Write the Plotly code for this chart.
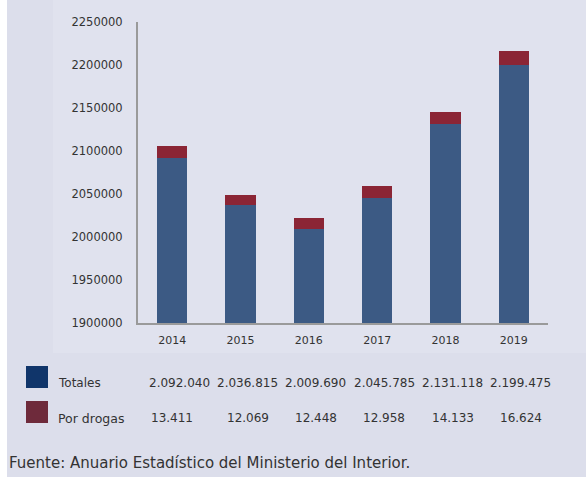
import plotly.graph_objects as go

years = ["2014", "2015", "2016", "2017", "2018", "2019"]
totales = [2092040, 2036815, 2009690, 2045785, 2131118, 2199475]
por_drogas = [13411, 12069, 12448, 12958, 14133, 16624]
totales_lbl = ["2.092.040", "2.036.815", "2.009.690", "2.045.785", "2.131.118", "2.199.475"]
drogas_lbl = ["13.411", "12.069", "12.448", "12.958", "14.133", "16.624"]
y_ticks = [1900000, 1950000, 2000000, 2050000, 2100000, 2150000, 2200000, 2250000]

W, H = 586, 481
L, R, T, B = 138, 38, 22, 158
PH = H - T - B
FONT = "DejaVu Sans"

def py(pix):
    return (H - B - pix) / PH

def px(pix):
    return (pix - L) / (W - L - R)

fig = go.Figure()
fig.add_trace(go.Bar(x=years, y=totales, name="Totales", marker=dict(color="#3c5a84", line=dict(width=0))))
fig.add_trace(go.Bar(x=years, y=por_drogas, name="Por drogas", marker=dict(color="#8b2535", line=dict(width=0))))

shapes = [
    dict(type="rect", xref="paper", yref="paper", x0=px(7), x1=px(586), y0=py(477), y1=py(0),
         fillcolor="#dcdeeb", line=dict(width=0), layer="below"),
    dict(type="rect", xref="paper", yref="paper", x0=px(53), x1=px(586), y0=py(353), y1=py(0),
         fillcolor="#e0e2ee", line=dict(width=0), layer="below"),
    dict(type="rect", xref="paper", yref="paper", x0=px(26), x1=px(48), y0=py(388), y1=py(366),
         fillcolor="#10356a", line=dict(width=0)),
    dict(type="rect", xref="paper", yref="paper", x0=px(26), x1=px(48), y0=py(423), y1=py(401),
         fillcolor="#6e2a3b", line=dict(width=0)),
]

ann = [
    dict(text="Totales", xref="paper", yref="paper", x=px(56), y=py(383), xanchor="left", yanchor="middle",
         showarrow=False, font=dict(size=12, color="#333")),
    dict(text="Por drogas", xref="paper", yref="paper", x=px(56), y=py(418), xanchor="left", yanchor="middle",
         showarrow=False, font=dict(size=12.5, color="#333")),
    dict(text="Fuente: Anuario Estadístico del Ministerio del Interior.", xref="paper", yref="paper",
         x=px(7), y=py(463), xanchor="left", yanchor="middle", showarrow=False, font=dict(size=15, color="#333")),
]
for i, yr in enumerate(years):
    ann.append(dict(text=totales_lbl[i], xref="x", yref="paper", x=i, y=py(383), xshift=7,
                    xanchor="center", yanchor="middle", showarrow=False, font=dict(size=12, color="#333")))
    ann.append(dict(text=drogas_lbl[i], xref="x", yref="paper", x=i, y=py(418), xshift=7 if i else 0,
                    xanchor="center", yanchor="middle", showarrow=False, font=dict(size=12, color="#333")))

fig.update_layout(
    width=W, height=H, margin=dict(l=L, r=R, t=T, b=B, autoexpand=False),
    barmode="stack", bargap=0.56, showlegend=False,
    paper_bgcolor="white", plot_bgcolor="rgba(0,0,0,0)",
    font=dict(family=FONT, color="#333", size=11),
    shapes=shapes, annotations=ann,
    xaxis=dict(type="category", range=[-0.5, 5.5], showline=True, linecolor="#9a9a9a", linewidth=2,
               ticks="", showgrid=False, tickfont=dict(size=11, color="#333"), ticklabelstandoff=6),
    yaxis=dict(range=[1900000, 2250000], tickvals=y_ticks, ticktext=[str(v) for v in y_ticks],
               showline=True, linecolor="#9a9a9a", linewidth=2, showgrid=False, zeroline=False,
               ticks="", ticklabelstandoff=11, tickfont=dict(size=11.5, color="#333")),
)
fig.write_html("out.html", config={"displayModeBar": False},
               post_script="document.body.style.margin='0';")
